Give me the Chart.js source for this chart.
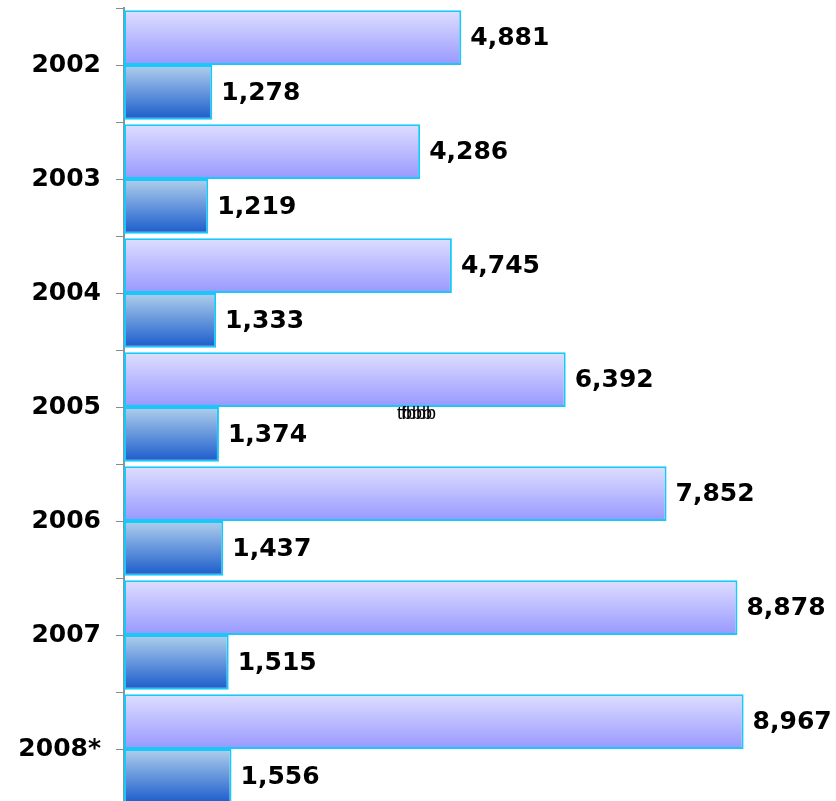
<!DOCTYPE html>
<html>
<head>
<meta charset="utf-8">
<script src="https://cdn.jsdelivr.net/npm/chart.js@4/dist/chart.umd.min.js"></script>
<style>
    html, body { margin: 0; padding: 0; background: #fff; overflow: hidden; }
    #wrap { width: 836px; height: 806px; }
</style>
</head>
<body>
<div id="wrap"><canvas id="chart"></canvas></div>
<script>
// Chart data
const years = ['2002', '2003', '2004', '2005', '2006', '2007', '2008*'];
const upperValues = [4881, 4286, 4745, 6392, 7852, 8878, 8967];
const lowerValues = [1278, 1219, 1333, 1374, 1437, 1515, 1556];

const LABEL_FONT = 'bold 25px "DejaVu Sans", Verdana, sans-serif';

/**
 * Give each bar its own vertical gradient
 */
const gradientPlugin = {
    id: 'barGradients',
    beforeDatasetsDraw(chart) {
        const ctx = chart.ctx;
        const stops = [
            ['#dedeff', '#9898ff'],
            ['#b0cfec', '#1a5ccc']
        ];
        chart.data.datasets.forEach((ds, i) => {
            const meta = chart.getDatasetMeta(i);
            meta.data.forEach(bar => {
                const top = bar.y - bar.height / 2;
                const g = ctx.createLinearGradient(0, top, 0, top + bar.height);
                g.addColorStop(0, stops[i][0]);
                g.addColorStop(1, stops[i][1]);
                // options are shared between bars, so give each one its own copy
                bar.options = Object.assign({}, bar.options, { backgroundColor: g });
            });
        });
    }
};

/**
 * Value labels, extra tick marks at category centres and the stray text
 */
const decorPlugin = {
    id: 'decor',
    afterDraw(chart) {
        const ctx = chart.ctx;
        const yScale = chart.scales.y;
        ctx.save();

        // axis line on top of the bars' left edges
        ctx.strokeStyle = '#7f9a9f';
        ctx.lineWidth = 1;
        ctx.beginPath();
        ctx.moveTo(yScale.right - 0.5, yScale.top);
        ctx.lineTo(yScale.right - 0.5, yScale.bottom);
        ctx.stroke();

        // tick marks at the category centres
        ctx.strokeStyle = '#8a8a8a';
        years.forEach((y, i) => {
            const py = Math.round(yScale.getPixelForTick(i)) + 0.5;
            ctx.beginPath();
            ctx.moveTo(yScale.right - 8, py);
            ctx.lineTo(yScale.right, py);
            ctx.stroke();
        });

        // value labels
        ctx.font = LABEL_FONT;
        ctx.fillStyle = '#000';
        ctx.textBaseline = 'middle';
        ctx.textAlign = 'left';
        chart.data.datasets.forEach((ds, i) => {
            chart.getDatasetMeta(i).data.forEach((bar, j) => {
                ctx.fillText(ds.data[j].toLocaleString('en-US'), bar.x + 9, bar.y + 1);
            });
        });

        // stray overlapping text seen in the original
        ctx.font = '18px "Liberation Sans", Arial, sans-serif';
        ctx.fillStyle = '#000';
        ctx.fillText('tbbb', 397, 414);
        ctx.fillText('fbbb', 401, 414);
        ctx.restore();
    }
};

new Chart(document.getElementById('chart'), {
    type: 'bar',
    data: {
        labels: years,
        datasets: [{
            data: upperValues,
            borderColor: '#18c8f8',
            borderWidth: 2,
            borderSkipped: false,
            categoryPercentage: 0.96,
            barPercentage: 1
        }, {
            data: lowerValues,
            borderColor: '#18c8f8',
            borderWidth: 2,
            borderSkipped: false,
            categoryPercentage: 0.96,
            barPercentage: 1
        }]
    },
    options: {
        indexAxis: 'y',
        responsive: true,
        maintainAspectRatio: false,
        animation: false,
        layout: { padding: { top: 8, right: 21, bottom: 0, left: 0 } },
        plugins: {
            legend: { display: false },
            tooltip: { enabled: false }
        },
        scales: {
            x: {
                display: false,
                min: 0,
                max: 10000
            },
            y: {
                offset: true,
                afterFit(scale) {
                    scale.width = 124;
                    scale.paddingTop = 0;
                    scale.paddingBottom = 0;
                },
                grid: {
                    offset: true,
                    drawOnChartArea: false,
                    tickLength: 8,
                    color: '#8a8a8a'
                },
                border: { color: '#7f9a9f', width: 2 },
                ticks: {
                    padding: 15,
                    color: '#000',
                    font: { family: '"DejaVu Sans", Verdana, sans-serif', size: 25, weight: 'bold' }
                }
            }
        }
    },
    plugins: [gradientPlugin, decorPlugin]
});
</script>
</body>
</html>
